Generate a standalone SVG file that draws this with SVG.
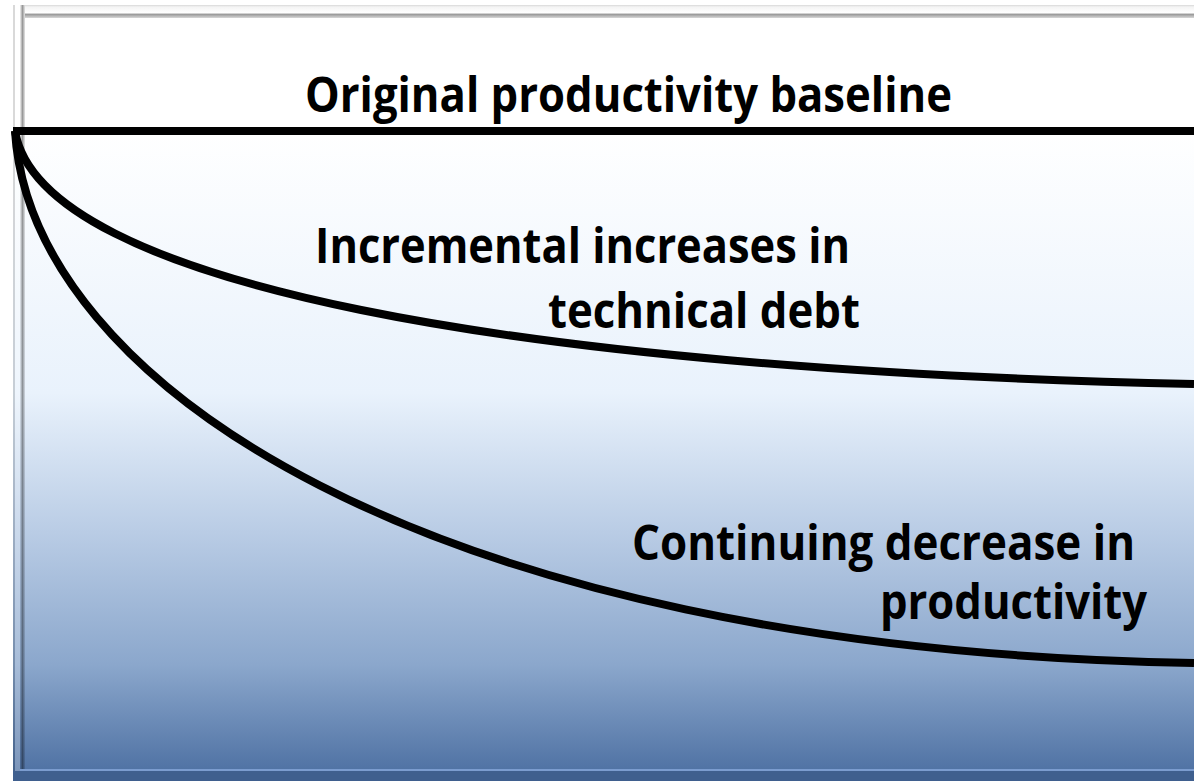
<svg xmlns="http://www.w3.org/2000/svg" width="1194" height="781" viewBox="0 0 1194 781">
<defs>
<linearGradient id="bg" x1="0" y1="0" x2="0" y2="1">
<stop offset="0" stop-color="#ffffff"/>
<stop offset="0.16" stop-color="#ffffff"/>
<stop offset="0.5" stop-color="#e9f2fc"/>
<stop offset="0.68" stop-color="#b9cce5"/>
<stop offset="0.85" stop-color="#8ba7cc"/>
<stop offset="1" stop-color="#4a6da0"/>
</linearGradient>
<linearGradient id="topBevel" x1="0" y1="0" x2="0" y2="1">
<stop offset="0" stop-color="#d8d8d8"/>
<stop offset="0.15" stop-color="#f4f4f4"/>
<stop offset="0.6" stop-color="#ffffff"/>
<stop offset="0.72" stop-color="#9a9a9a"/>
<stop offset="1" stop-color="#d8d8d8"/>
</linearGradient>
<linearGradient id="darkStripe" x1="0" y1="0" x2="1" y2="0">
<stop offset="0" stop-color="#000" stop-opacity="0.05"/>
<stop offset="0.5" stop-color="#000" stop-opacity="0.4"/>
<stop offset="1" stop-color="#000" stop-opacity="0.1"/>
</linearGradient>
<style>
.lbl{font-family:"Open Sans","Liberation Sans",sans-serif;font-weight:700;font-size:49px;fill:#000}
.curve{fill:none;stroke:#000;stroke-width:8;stroke-linecap:butt}
</style>
</defs>
<rect x="0" y="0" width="1194" height="781" fill="#ffffff"/>
<g id="frame">
<rect x="13" y="5" width="1181" height="776" fill="url(#bg)"/>
<rect x="13" y="5" width="2" height="776" fill="#000" opacity="0.15"/>
<rect x="15" y="5" width="5" height="776" fill="#ffffff" opacity="0.25"/>
<rect x="20" y="5" width="5" height="764" fill="url(#darkStripe)"/>
<rect x="25" y="5" width="1169" height="13" fill="url(#topBevel)"/>
<rect x="20" y="769" width="1174" height="2" fill="#7b9ccf"/>
<rect x="13" y="771" width="1181" height="10" fill="#3f5f8e"/>
</g>
<g id="connectors">
<line id="baseline" x1="13" y1="131" x2="1194" y2="131" stroke="#000" stroke-width="8"/>
<path id="debt-curve" class="curve" d="M15,131 C40,285 520,370 1194,384"/>
<path id="productivity-curve" class="curve" d="M15,131 C30,380 420,650 1194,663"/>
</g>
<g id="label-baseline">
<text class="lbl" x="305" y="112" textLength="647" lengthAdjust="spacingAndGlyphs">Original productivity baseline</text>
</g>
<g id="label-debt">
<text class="lbl" x="315" y="263" textLength="535" lengthAdjust="spacingAndGlyphs">Incremental increases in</text>
<text class="lbl" x="548" y="328" textLength="312" lengthAdjust="spacingAndGlyphs">technical debt</text>
</g>
<g id="label-productivity">
<text class="lbl" x="632" y="560" textLength="503" lengthAdjust="spacingAndGlyphs">Continuing decrease in</text>
<text class="lbl" x="880" y="619" textLength="267" lengthAdjust="spacingAndGlyphs">productivity</text>
</g>
</svg>
